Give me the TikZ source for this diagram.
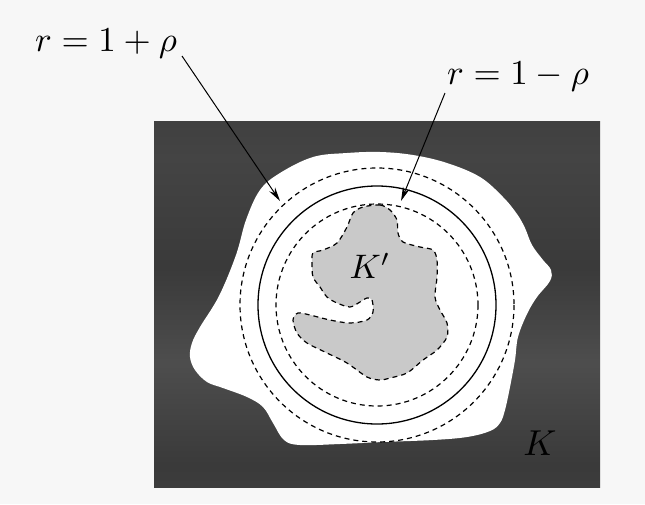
\documentclass[tikz,border=0pt]{standalone}
\usetikzlibrary{arrows.meta}
\definecolor{pagebg}{HTML}{F7F7F7}
\definecolor{darkbg}{HTML}{444444}
\definecolor{kgray}{HTML}{C9C9C9}
\pgfdeclareverticalshading{darkbands}{100bp}{%
  color(0bp)=(darkbg!85!black); color(15bp)=(darkbg); color(28bp)=(darkbg!85!black);
  color(42bp)=(darkbg!95!white); color(55bp)=(darkbg!85!black); color(70bp)=(darkbg);
  color(82bp)=(darkbg!85!black); color(92bp)=(darkbg!95!white); color(100bp)=(darkbg!88!black)}
\begin{document}
\begin{tikzpicture}[x=1pt,y=-1pt,
  dashcirc/.style={line width=1.2pt, dash pattern=on 5pt off 4pt},
  solidcirc/.style={line width=1.3pt},
  arr/.style={line width=1pt,-{Stealth[length=14pt,width=7pt]}},
  lab/.style={inner sep=0pt, scale=3.5}]
\fill[pagebg] (0,0) rectangle (645,504);
\useasboundingbox (0,0) rectangle (645,504);
% K
\shade[shading=darkbands] (154,121) rectangle (600,487);
% white region
\fill[white] plot[smooth cycle, tension=0.6] coordinates {
 (190,357) (192,343) (200,327) (219,296) (236,255) (246,220) (260,190)
 (280,173) (313,157) (347,153) (380,152) (413,155) (447,163) (480,177)
 (503,197) (517,214) (525,228) (532,245) (543,260) (551,270) (550,281)
 (537,297) (527,314) (518,337) (515,360) (510,387) (505,410) (500,423)
 (490,431) (467,437) (433,440) (383,442) (340,444) (300,445) (284,440)
 (273,423) (263,407) (247,397) (223,388) (207,382) (195,370)};
% K'
\filldraw[fill=kgray, dashcirc] plot[smooth cycle, tension=0.5] coordinates {
 (363,207) (380,205) (390,210) (397,220) (398,233) (403,242) (420,247)
 (433,250) (437,260) (437,277) (435,297) (440,310) (447,323) (447,337)
 (437,350) (423,360) (407,373) (390,378) (380,380) (367,377) (347,363)
 (327,353) (307,343) (297,333) (293,320) (298,313) (310,315) (330,320)
 (350,323) (367,320) (373,312) (372,300) (367,298) (360,302) (350,307)
 (337,303) (327,297) (320,287) (313,277) (312,263) (313,253) (323,250)
 (337,243) (347,227) (353,213)};
% circles
\coordinate (c) at (377,305);
\draw[dashcirc] (c) circle[radius=137];
\draw[solidcirc] (c) circle[radius=119];
\draw[dashcirc] (c) circle[radius=101];
% labels
\node[lab, scale=3.4/3.5] (kp) at (370,266) {$K'$};
\node[lab, scale=3.6/3.5] (k) at (540,443) {$K$};
\node[lab] (lplus) at (106,44) {$r=1+\rho$};
\node[lab] (lminus) at (518,77) {$r=1-\rho$};
\coordinate (s1) at (182,56);
\coordinate (t1) at (280,201);
\coordinate (s2) at (445,93);
\coordinate (t2) at (401,201);
\draw[arr] (s1) -- (t1);
\draw[arr] (s2) -- (t2);
\end{tikzpicture}
\end{document}
